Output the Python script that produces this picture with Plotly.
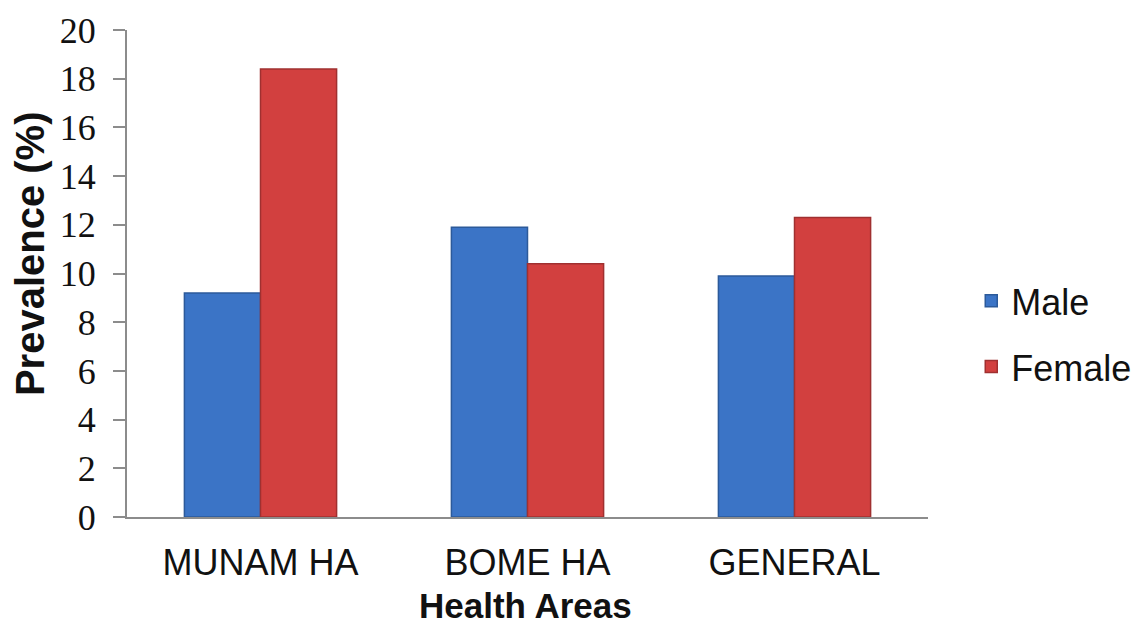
import plotly.graph_objects as go

categories = ["MUNAM HA", "BOME HA", "GENERAL"]
male = [9.2, 11.9, 9.9]
female = [18.4, 10.4, 12.3]
y_ticks = [0, 2, 4, 6, 8, 10, 12, 14, 16, 18, 20]

fig = go.Figure()
fig.add_trace(go.Bar(
    name="Male", x=categories, y=male, legendgroup="m",
    marker=dict(color="#3B74C6", line=dict(color="#2C5A9A", width=1.5)),
))
fig.add_trace(go.Bar(
    name="Female", x=categories, y=female, legendgroup="f",
    marker=dict(color="#D2403F", line=dict(color="#A03030", width=1.5)),
))

fig.update_layout(
    width=1134, height=625,
    margin=dict(l=127, r=206, t=30, b=108, autoexpand=False),
    paper_bgcolor="white", plot_bgcolor="white",
    barmode="group", bargap=0.43, bargroupgap=0,
    showlegend=True,
    legend=dict(
        x=1.054, y=0.376, xanchor="left", yanchor="middle",
        font=dict(family="Arial, Liberation Sans", size=36, color="#111"),
        traceorder="grouped", tracegroupgap=16,
        itemwidth=30,
    ),
    xaxis=dict(
        showline=True, linecolor="#8c8c8c", linewidth=2,
        ticks="", showgrid=False,
        tickfont=dict(family="Arial, Liberation Sans", size=36, color="#111"),
        ticklabelstandoff=13,
    ),
    yaxis=dict(
        range=[0, 20], tickvals=y_ticks,
        showline=True, linecolor="#8c8c8c", linewidth=2,
        ticks="outside", ticklen=12, tickwidth=2, tickcolor="#8c8c8c",
        showgrid=False, zeroline=False,
        tickfont=dict(family="Liberation Serif, Times New Roman", size=36, color="#111"),
        ticklabelstandoff=10,
    ),
    annotations=[
        dict(text="<b>Prevalence (%)</b>", textangle=-90, xref="paper", yref="paper",
             x=-0.121, y=0.54, xanchor="center", yanchor="middle", showarrow=False,
             font=dict(family="Arial, Liberation Sans", size=40, color="#111")),
        dict(text="<b>Health Areas</b>", xref="paper", yref="paper",
             x=0.497, y=-0.181, xanchor="center", yanchor="middle", showarrow=False,
             font=dict(family="Arial, Liberation Sans", size=35, color="#111")),
    ],
)

fig.write_html("out.html")
